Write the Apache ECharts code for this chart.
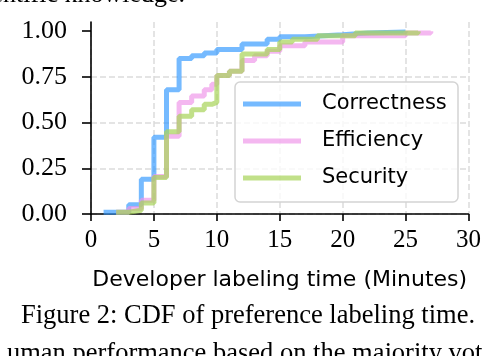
<!DOCTYPE html>
<html>
<head>
<meta charset="utf-8">
<title>CDF of preference labeling time</title>
<script src="https://cdn.jsdelivr.net/npm/echarts@6/dist/echarts.min.js"></script>
<style>
  html, body { margin: 0; padding: 0; background: #fff; }
  #chart { width: 484px; height: 356px; }
</style>
</head>
<body>
<div id="chart"></div>
<script type="text/javascript">
// step points (minutes, cumulative fraction)
var corrX = [1, 3, 4, 5, 6, 7, 8, 9, 10, 12, 14, 15, 17, 20, 22, 25];
var corrY = [0.01, 0.05, 0.19, 0.42, 0.68, 0.85, 0.865, 0.88, 0.9, 0.93, 0.955, 0.97, 0.98, 0.99, 0.995, 1.0];
var effX = [2, 3, 4, 5, 6, 7, 8, 9, 9.6, 10, 11, 12, 13, 14, 15, 17, 20, 25, 27];
var effY = [0.01, 0.03, 0.075, 0.205, 0.425, 0.61, 0.645, 0.68, 0.71, 0.758, 0.78, 0.84, 0.865, 0.89, 0.92, 0.94, 0.975, 0.99, 1.0];
var secX = [2, 3, 4, 5, 6, 7, 8, 9, 9.6, 10, 11, 12, 14, 15, 16, 18, 21, 26];
var secY = [0.01, 0.02, 0.06, 0.2, 0.45, 0.535, 0.57, 0.6, 0.61, 0.758, 0.78, 0.875, 0.9, 0.94, 0.955, 0.975, 0.99, 1.0];
var xTicks = [0, 5, 10, 15, 20, 25, 30];
var yTicks = [0, 0.25, 0.5, 0.75, 1.0];

function pairs(xs, ys) {
  return xs.map(function (x, i) { return [x, ys[i]]; });
}

var serif = 'Liberation Serif';
var sans = 'DejaVu Sans';
var grid = { color: '#dcdcdc', type: [6, 3], width: 1.5 };

var chart = echarts.init(document.getElementById('chart'));
var option = {
  animation: false,
  grid: { left: 91, right: 14, top: 22, bottom: 142 },
  xAxis: {
    type: 'value', min: 0, max: 30, interval: 5,
    name: 'Developer labeling time (Minutes)',
    nameLocation: 'middle', nameGap: 55,
    nameTextStyle: { fontFamily: sans, fontSize: 22, color: '#000' },
    axisLine: { onZero: false, lineStyle: { color: '#000', width: 1.6 } },
    axisTick: { length: 7, lineStyle: { color: '#000', width: 1.6 }, customValues: xTicks },
    axisLabel: { margin: 14, fontFamily: serif, fontSize: 25, color: '#000', customValues: xTicks },
    splitLine: { show: true, lineStyle: grid }
  },
  yAxis: {
    type: 'value', min: 0, max: 1.05, offset: 2,
    axisLine: { show: true, lineStyle: { color: '#000', width: 1.6 } },
    axisTick: { show: true, length: 9, lineStyle: { color: '#000', width: 1.6 }, customValues: yTicks },
    axisLabel: {
      margin: 22, fontFamily: serif, fontSize: 26, color: '#000', customValues: yTicks,
      formatter: function (v) { return v.toFixed(2); }
    },
    splitLine: { show: true, showMaxLine: false, lineStyle: grid }
  },
  legend: {
    orient: 'vertical', left: 235, top: 82,
    icon: 'rect', itemWidth: 58, itemHeight: 5, itemGap: 13,
    padding: [10, 0, 12, 8],
    backgroundColor: 'rgba(255,255,255,0.8)',
    borderColor: '#d4d4d4', borderWidth: 1.5, borderRadius: 5,
    textStyle: { fontFamily: sans, fontSize: 21, color: '#000', lineHeight: 24, width: 136, padding: [0, 0, 0, 16] },
    data: ['Correctness', 'Efficiency', 'Security']
  },
  series: [
    { name: 'Correctness', type: 'line', step: 'end', showSymbol: false, symbol: 'none',
      color: 'rgba(51,153,255,0.68)', lineStyle: { width: 5 }, data: pairs(corrX, corrY) },
    { name: 'Efficiency', type: 'line', step: 'end', showSymbol: false, symbol: 'none',
      color: 'rgba(239,149,233,0.68)', lineStyle: { width: 5 }, data: pairs(effX, effY) },
    { name: 'Security', type: 'line', step: 'end', showSymbol: false, symbol: 'none',
      color: 'rgba(169,212,91,0.72)', lineStyle: { width: 5 }, data: pairs(secX, secY) }
  ],
  graphic: [
    { type: 'text', right: 299, top: -18,
      style: { text: 'entific knowledge.', font: '26px "Liberation Serif"', fill: '#000' } },
    { type: 'text', left: 21, top: 303,
      style: { text: 'Figure 2: CDF of preference labeling time.', font: '26.5px "Liberation Serif"', fill: '#000' } },
    { type: 'text', left: 7, top: 341,
      style: { text: 'uman performance based on the majority vot', font: '26.5px "Liberation Serif"', fill: '#000' } }
  ]
};
chart.setOption(option);
</script>
</body>
</html>
